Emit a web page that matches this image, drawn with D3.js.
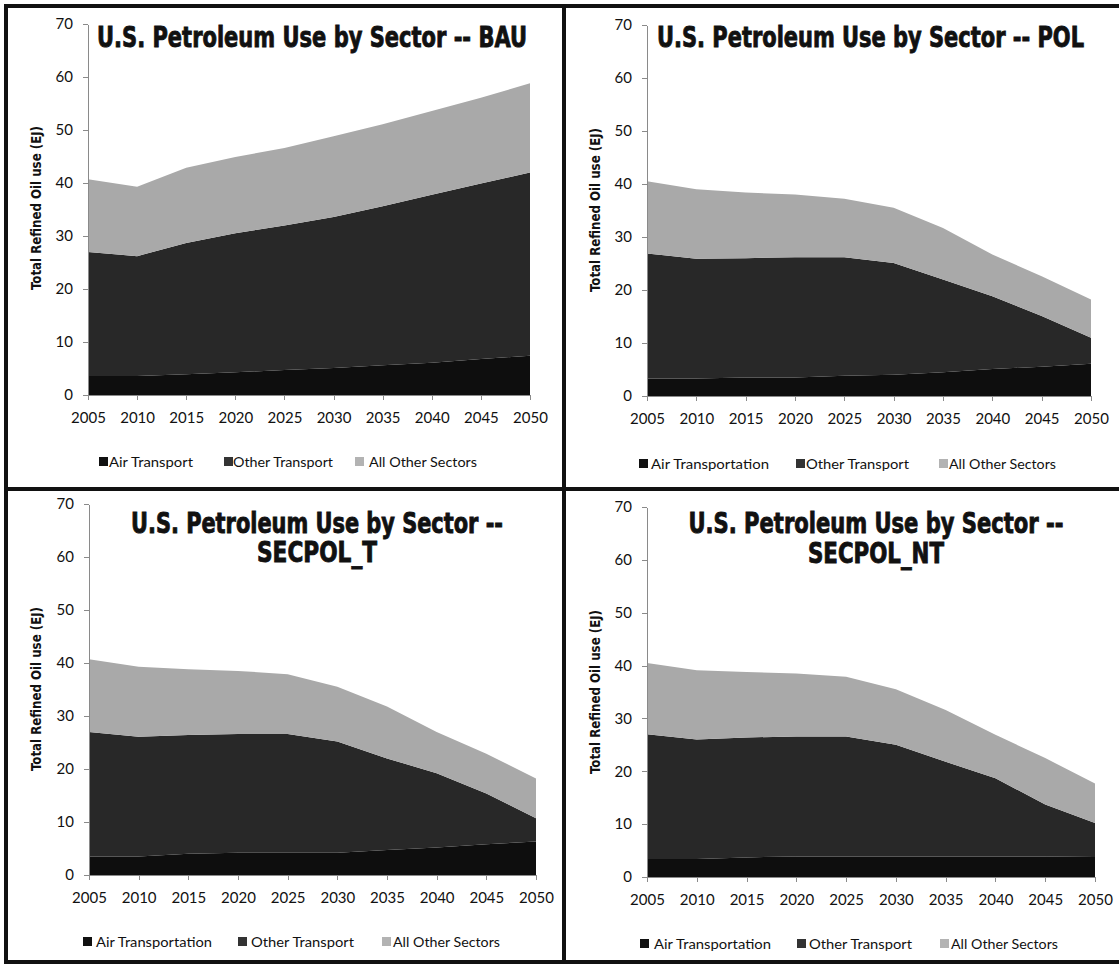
<!DOCTYPE html>
<html lang="en">
<meta charset="utf-8"/>
<head>
<script src="https://d3js.org/d3.v7.min.js"></script>
</head>
<style>
  body { margin: 0; background: #fff; }
  .tick text { font-family: Lato, "Open Sans", sans-serif; font-size: 15px; fill: #111; }
  .axis path, .axis line { stroke: #8a8a8a; fill: none; shape-rendering: crispEdges; }
  .title { font-family: "DejaVu Sans Condensed", "Liberation Sans Narrow", sans-serif; font-weight: bold; font-size: 20px; fill: #111; stroke: #111; stroke-width: 0.6px; }
  .ylab { font-family: "DejaVu Sans Condensed", "Liberation Sans Narrow", sans-serif; font-weight: bold; font-size: 11px; fill: #111; }
  .leg { font-family: Lato, "Open Sans", sans-serif; font-size: 14px; fill: #111; }
</style>
<body>
<script>
// years on the x axis
var years = [2005, 2010, 2015, 2020, 2025, 2030, 2035, 2040, 2045, 2050];
var yTicks = [0, 10, 20, 30, 40, 50, 60, 70];
var keys = ["air", "other", "rest"];

// EJ per sector
var bauAir   = [3.6, 3.6, 3.9, 4.3, 4.7, 5.1, 5.6, 6.1, 6.8, 7.4];
var bauOther = [23.4, 22.6, 24.8, 26.2, 27.3, 28.5, 30.0, 31.7, 33.1, 34.6];
var bauRest  = [13.7, 13.1, 14.2, 14.4, 14.6, 15.2, 15.5, 15.8, 16.2, 16.8];

var polAir   = [3.3, 3.3, 3.5, 3.5, 3.8, 4.0, 4.5, 5.1, 5.5, 6.1];
var polOther = [23.6, 22.6, 22.5, 22.7, 22.4, 21.1, 17.5, 13.7, 9.6, 4.9];
var polRest  = [13.6, 13.1, 12.4, 11.8, 11.0, 10.4, 9.7, 7.9, 7.5, 7.2];

var secTAir   = [3.5, 3.5, 4.0, 4.2, 4.2, 4.2, 4.7, 5.2, 5.8, 6.3];
var secTOther = [23.5, 22.6, 22.4, 22.4, 22.4, 21.0, 17.3, 14.0, 9.6, 4.4];
var secTRest  = [13.7, 13.2, 12.4, 11.9, 11.3, 10.3, 9.8, 7.8, 7.5, 7.5];

var secNTAir   = [3.4, 3.4, 3.7, 3.9, 3.9, 3.9, 3.9, 3.9, 3.9, 3.8];
var secNTOther = [23.6, 22.6, 22.7, 22.7, 22.7, 21.1, 17.9, 14.8, 9.8, 6.4];
var secNTRest  = [13.5, 13.1, 12.4, 11.9, 11.3, 10.5, 9.8, 8.2, 8.8, 7.5];

var legendShort = ["Air Transport", "Other Transport", "All Other Sectors"];
var legendLong  = ["Air Transportation", "Other Transport", "All Other Sectors"];

var fills = {air: "#0e0e0e", other: "#282828", rest: "#a9a9a9"};
var legFills = ["#111", "#333", "#b3b3b3"];

var W = 1119, H = 966;
var svg = d3.select("body").append("svg")
    .attr("width", W)
    .attr("height", H);
svg.append("rect").attr("width", W).attr("height", H).attr("fill", "#fff");

// panel layout: axis box in page pixels, title lines, legend positions
var panels = [
  {air: bauAir, other: bauOther, rest: bauRest, x0: 88, x1: 530, yb: 395, yt: 24,
   title: [{t: "U.S. Petroleum Use by Sector -- BAU", x: 97, y: 47, w: 430, anchor: "start"}],
   ylab: {x: 41, y: 208},
   legend: legendShort, leg: [{sq: 99, tx: 109, w: 84}, {sq: 224, tx: 233, w: 100}, {sq: 355, tx: 369, w: 108}], ly: 462},
  {air: polAir, other: polOther, rest: polRest, x0: 647, x1: 1091, yb: 396, yt: 25,
   title: [{t: "U.S. Petroleum Use by Sector -- POL", x: 657, y: 47, w: 427, anchor: "start"}],
   ylab: {x: 600, y: 210},
   legend: legendLong, leg: [{sq: 639, tx: 651, w: 118}, {sq: 796, tx: 806, w: 103}, {sq: 939, tx: 949, w: 107}], ly: 464},
  {air: secTAir, other: secTOther, rest: secTRest, x0: 89, x1: 536, yb: 875, yt: 504,
   title: [{t: "U.S. Petroleum Use by Sector --", x: 317, y: 533, w: 372, anchor: "middle"},
           {t: "SECPOL_T", x: 317, y: 562, w: 120, anchor: "middle"}],
   ylab: {x: 41, y: 689},
   legend: legendLong, leg: [{sq: 83, tx: 96, w: 116}, {sq: 238, tx: 251, w: 103}, {sq: 382, tx: 393, w: 107}], ly: 942},
  {air: secNTAir, other: secNTOther, rest: secNTRest, x0: 647, x1: 1095, yb: 877, yt: 507,
   title: [{t: "U.S. Petroleum Use by Sector --", x: 876, y: 533, w: 375, anchor: "middle"},
           {t: "SECPOL_NT", x: 876, y: 563, w: 136, anchor: "middle"}],
   ylab: {x: 600, y: 692},
   legend: legendLong, leg: [{sq: 640, tx: 654, w: 117}, {sq: 797, tx: 809, w: 103}, {sq: 940, tx: 951, w: 107}], ly: 944}
];

panels.forEach(function(p) {
  var rows = years.map(function(yr, i) {
    return {year: yr, air: p.air[i], other: p.other[i], rest: p.rest[i]};
  });
  var series = d3.stack().keys(keys)(rows);

  var x = d3.scaleLinear().domain([2005, 2050]).range([p.x0, p.x1]);
  var y = d3.scaleLinear().domain([0, 70]).range([p.yb, p.yt]);

  var area = d3.area()
      .x(function(d) { return x(d.data.year); })
      .y0(function(d) { return y(d[0]); })
      .y1(function(d) { return y(d[1]); });

  svg.append("g").selectAll("path")
      .data(series).enter()
      .append("path")
      .attr("d", area)
      .attr("fill", function(d) { return fills[d.key]; });

  svg.append("g")
      .attr("class", "axis")
      .attr("transform", "translate(" + p.x0 + ",0)")
      .call(d3.axisLeft(y).tickValues(yTicks).tickSize(5).tickPadding(10).tickSizeOuter(0));

  svg.append("g")
      .attr("class", "axis")
      .attr("transform", "translate(0," + p.yb + ")")
      .call(d3.axisBottom(x).tickValues(years).tickFormat(d3.format("d")).tickSize(5).tickPadding(12).tickSizeOuter(0));

  // condensed heavy title: narrow font stretched upward
  p.title.forEach(function(t) {
    svg.append("g")
      .attr("transform", "translate(" + t.x + "," + t.y + ") scale(1,1.38)")
      .append("text")
      .attr("class", "title")
      .attr("text-anchor", t.anchor)
      .attr("textLength", t.w)
      .attr("lengthAdjust", "spacingAndGlyphs")
      .text(t.t);
  });

  svg.append("g")
    .attr("transform", "translate(" + p.ylab.x + "," + p.ylab.y + ") rotate(-90) scale(1,1.25)")
    .append("text")
    .attr("class", "ylab")
    .attr("text-anchor", "middle")
    .attr("textLength", 164)
    .attr("lengthAdjust", "spacingAndGlyphs")
    .text("Total Refined Oil use (EJ)");

  p.leg.forEach(function(l, i) {
    svg.append("rect")
      .attr("x", l.sq).attr("y", p.ly - 5)
      .attr("width", 9).attr("height", 9)
      .attr("fill", legFills[i]);
    svg.append("text")
      .attr("class", "leg")
      .attr("x", l.tx).attr("y", p.ly + 5)
      .attr("textLength", l.w)
      .attr("lengthAdjust", "spacingAndGlyphs")
      .text(p.legend[i]);
  });
});

// frame around the four panels
svg.append("rect")
  .attr("x", 6).attr("y", 6)
  .attr("width", W + 20).attr("height", 956)
  .attr("fill", "none").attr("stroke", "#111").attr("stroke-width", 4);
svg.append("line")
  .attr("x1", 564).attr("x2", 564).attr("y1", 6).attr("y2", 962)
  .attr("stroke", "#111").attr("stroke-width", 4);
svg.append("line")
  .attr("x1", 6).attr("x2", W).attr("y1", 489).attr("y2", 489)
  .attr("stroke", "#111").attr("stroke-width", 4);
</script>
</body>
</html>
